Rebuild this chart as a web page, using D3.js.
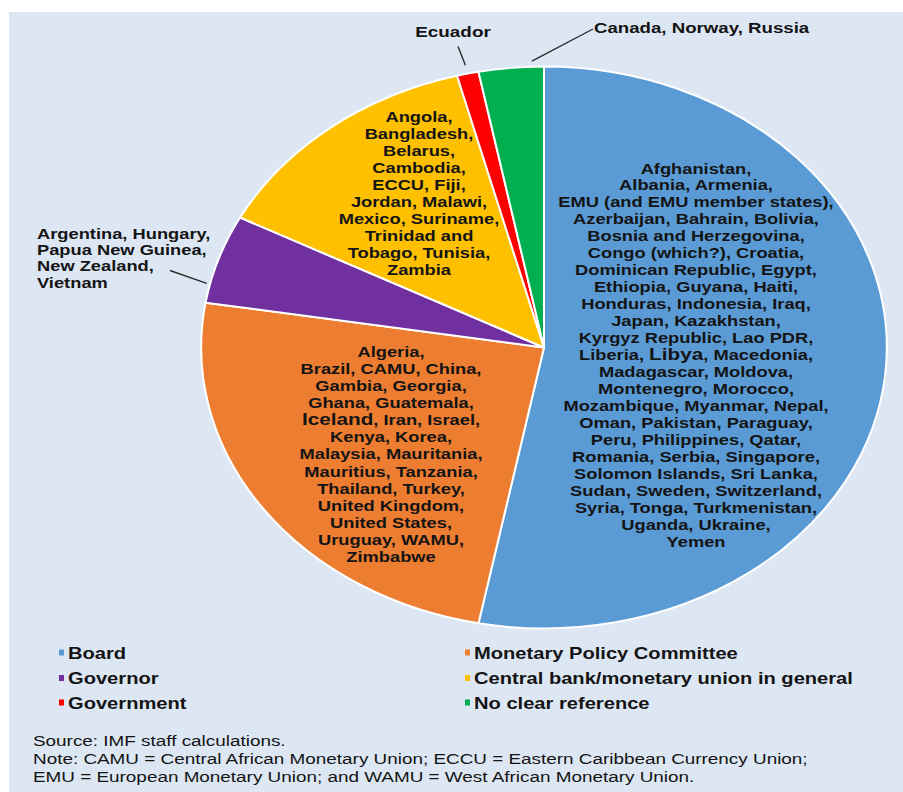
<!DOCTYPE html>
<html>
<head>
<meta charset="utf-8">
<script src="https://cdn.jsdelivr.net/npm/d3@7"></script>
<style>
  html, body { margin: 0; padding: 0; background: #ffffff; }
  svg { display: block; }
</style>
</head>
<body>
<svg id="chart" width="903" height="792"></svg>
<script>
// Who sets monetary policy: number of central banks per decision-making body
const categories = [
  "Board",
  "Monetary Policy Committee",
  "Governor",
  "Central bank/monetary union in general",
  "Government",
  "No clear reference"
];
const counts = [52, 24, 5, 13, 1, 3];
const sliceColors = ["#5b9bd5", "#ed7d31", "#7030a0", "#ffc000", "#ff0000", "#00b050"];

// Member lists shown on (or next to) each slice, one entry per printed line
const boardMembers = [
  "Afghanistan,",
  "Albania, Armenia,",
  "EMU (and EMU member states),",
  "Azerbaijan, Bahrain, Bolivia,",
  "Bosnia and Herzegovina,",
  "Congo (which?), Croatia,",
  "Dominican Republic, Egypt,",
  "Ethiopia, Guyana, Haiti,",
  "Honduras, Indonesia, Iraq,",
  "Japan, Kazakhstan,",
  "Kyrgyz Republic, Lao PDR,",
  "Liberia, Libya, Macedonia,",
  "Madagascar, Moldova,",
  "Montenegro, Morocco,",
  "Mozambique, Myanmar, Nepal,",
  "Oman, Pakistan, Paraguay,",
  "Peru, Philippines, Qatar,",
  "Romania, Serbia, Singapore,",
  "Solomon Islands, Sri Lanka,",
  "Sudan, Sweden, Switzerland,",
  "Syria, Tonga, Turkmenistan,",
  "Uganda, Ukraine,",
  "Yemen"
];
const mpcMembers = [
  "Algeria,",
  "Brazil, CAMU, China,",
  "Gambia, Georgia,",
  "Ghana, Guatemala,",
  "Iceland, Iran, Israel,",
  "Kenya, Korea,",
  "Malaysia, Mauritania,",
  "Mauritius, Tanzania,",
  "Thailand, Turkey,",
  "United Kingdom,",
  "United States,",
  "Uruguay, WAMU,",
  "Zimbabwe"
];
const governorMembers = [
  "Argentina, Hungary,",
  "Papua New Guinea,",
  "New Zealand,",
  "Vietnam"
];
const centralBankMembers = [
  "Angola,",
  "Bangladesh,",
  "Belarus,",
  "Cambodia,",
  "ECCU, Fiji,",
  "Jordan, Malawi,",
  "Mexico, Suriname,",
  "Trinidad and",
  "Tobago, Tunisia,",
  "Zambia"
];
const governmentMembers = ["Ecuador"];
const noReferenceMembers = ["Canada, Norway, Russia"];

// Words typeset a size larger inside the member lists
const largerWords = ["Libya", "Iceland"];

const sourceLines = [
  "Source: IMF staff calculations.",
  "Note: CAMU = Central African Monetary Union; ECCU = Eastern Caribbean Currency Union;",
  "EMU = European Monetary Union; and WAMU = West African Monetary Union."
];

// ---------------------------------------------------------------------------
const W = 903, H = 792;
const SX = 1.22;               // horizontal stretch of the figure
const FONT = "'Liberation Sans', Arial, Helvetica, sans-serif";
const INK = "#141414";

const svg = d3.select("#chart");

// panel background
svg.append("rect")
  .attr("x", 9).attr("y", 12)
  .attr("width", W - 9).attr("height", H - 12)
  .attr("fill", "#dde7f3");

// pie
const cx = 544, cy = 347.5, R = 281;
const pie = d3.pie().sort(null).value(d => d);
const slices = pie(counts);
const arc = d3.arc().innerRadius(0).outerRadius(R);

const pieG = svg.append("g")
  .attr("transform", `translate(${cx},${cy}) scale(${SX},1)`);

pieG.selectAll("path")
  .data(slices)
  .join("path")
  .attr("d", arc)
  .attr("fill", (d, i) => sliceColors[i])
  .attr("stroke", "#ffffff")
  .attr("stroke-width", 2)
  .attr("stroke-linejoin", "round")
  .attr("vector-effect", "non-scaling-stroke");

// point on the (stretched) pie rim at a fraction of a slice's sweep
function rimPoint(slice, frac, radiusFactor) {
  const a = slice.startAngle + (slice.endAngle - slice.startAngle) * frac;
  return [cx + SX * R * radiusFactor * Math.sin(a), cy - R * radiusFactor * Math.cos(a)];
}

// multi-line text block, stretched horizontally like the rest of the figure
function textBlock(lines, opt) {
  const g = svg.append("g")
    .attr("transform", `translate(${opt.x},${opt.y}) scale(${SX},1)`);
  const t = g.append("text")
    .attr("font-family", FONT)
    .attr("font-weight", opt.weight || "bold")
    .attr("font-size", opt.size)
    .attr("fill", INK)
    .attr("text-anchor", opt.anchor || "middle");
  lines.forEach((line, i) => {
    const parts = line.split(new RegExp(`(${largerWords.join("|")})`));
    parts.forEach((p, j) => {
      if (!p) return;
      const ts = t.append("tspan").text(p);
      if (j === 0 || (j === 1 && !parts[0])) {
        ts.attr("x", 0).attr("y", i * opt.step);
      }
      if (largerWords.includes(p)) ts.attr("font-size", opt.size + 2);
    });
  });
  return g;
}

// labels inside the slices
textBlock(boardMembers,       { x: 696, y: 173.5, step: 17.0, size: 15 });
textBlock(mpcMembers,         { x: 391, y: 357,   step: 17.08, size: 15 });
textBlock(centralBankMembers, { x: 419, y: 122,   step: 16.96, size: 15 });

// labels outside the pie, with leader lines
const leaders = [
  { slice: 2, lines: governorMembers,    x: 37,  y: 238.5, anchor: "start",  step: 16.35, size: 15,
    from: [170, 270.5], frac: 0.21, rf: 1.01 },
  { slice: 4, lines: governmentMembers,  x: 453, y: 36.5,  anchor: "middle", step: 17, size: 15.5,
    from: [458, 46.5], frac: 0.5, rf: 1.03 },
  { slice: 5, lines: noReferenceMembers, x: 594, y: 32.5,  anchor: "start",  step: 17, size: 15.3,
    from: [593, 29], frac: 0.82, rf: 1.02 }
];

leaders.forEach(l => {
  const end = rimPoint(slices[l.slice], l.frac, l.rf);
  svg.append("line")
    .attr("x1", l.from[0]).attr("y1", l.from[1])
    .attr("x2", end[0]).attr("y2", end[1])
    .attr("stroke", "#2b2b2b")
    .attr("stroke-width", 1.4);
  textBlock(l.lines, { x: l.x, y: l.y, anchor: l.anchor, step: l.step, size: l.size });
});

// legend: two columns, three rows
const legendCols = [68, 474];
const legendRows = [658.5, 684, 708.5];
const legend = svg.append("g");
categories.forEach((c, i) => {
  const x = legendCols[i % 2];
  const y = legendRows[Math.floor(i / 2)];
  legend.append("rect")
    .attr("x", x - 9).attr("y", y - 9)
    .attr("width", 5).attr("height", 6)
    .attr("fill", sliceColors[i]);
  textBlock([c], { x: x, y: y, anchor: "start", step: 0, size: 16.5 });
});

// source and note
textBlock(sourceLines, { x: 33, y: 746, anchor: "start", step: 18, size: 15.5, weight: "normal" });
</script>
</body>
</html>
